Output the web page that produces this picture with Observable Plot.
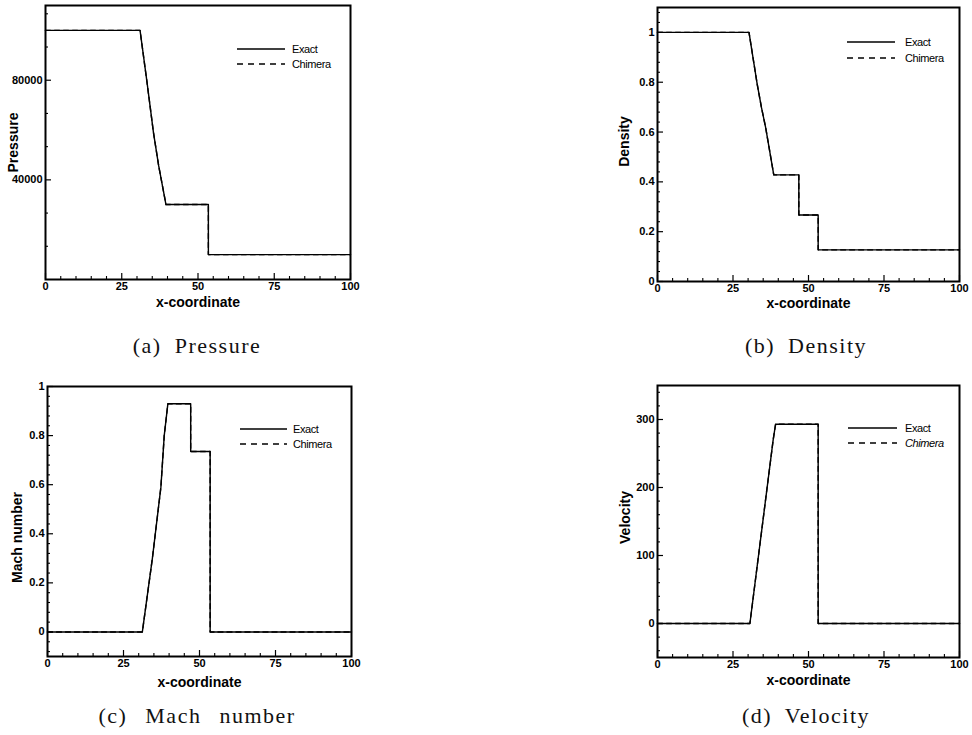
<!DOCTYPE html>
<html>
<head>
<meta charset="utf-8">
<script src="https://cdn.jsdelivr.net/npm/d3@7"></script>
<script src="https://cdn.jsdelivr.net/npm/@observablehq/plot@0.6"></script>
<style>
  html, body { margin: 0; padding: 0; background: #fff; }
  #root { position: relative; width: 972px; height: 735px; overflow: hidden; background: #fff;
          font-family: "Liberation Sans", Arial, sans-serif; color: #000; }
  .panel { position: absolute; }
  .cap { position: absolute; font-family: "Liberation Serif", "DejaVu Serif", serif; font-size: 22px;
         letter-spacing: 1.5px; word-spacing: 6px; white-space: nowrap; transform: translate(-50%, -50%); color: #111; }
  .leg { position: absolute; font-size: 11px; line-height: 11px; white-space: nowrap; letter-spacing: -0.4px; }
</style>
</head>
<body>
<div id="root"></div>
<script>
// ---------------- data ----------------
const xMajor = [0, 25, 50, 75, 100];
const xMinor = [5, 10, 15, 20, 30, 35, 40, 45, 55, 60, 65, 70, 80, 85, 90, 95];

// (a) Pressure
const pressureX      = [0, 31.0, 33.3, 35.4, 37.1, 39.5, 53.4, 53.4, 100];
const pressureExact  = [100000, 100000, 79000, 59000, 45700, 30100, 30100, 10000, 10000];
const pressureChim   = [100000, 100000, 79000, 59000, 45700, 30100, 30100, 10000, 10000];
const pressureMajor  = [40000, 80000];
const pressureMinor  = [13333, 26667, 53333, 66667, 93333, 106667];

// (b) Density
const densityX       = [0, 30.3, 33.0, 34.4, 35.8, 38.5, 46.8, 46.8, 53.2, 53.2, 100];
const densityExact   = [1, 1, 0.793, 0.70, 0.619, 0.428, 0.428, 0.267, 0.267, 0.127, 0.127];
const densityChim    = [1, 1, 0.793, 0.70, 0.619, 0.428, 0.428, 0.267, 0.267, 0.127, 0.127];
const densityMajor   = [0, 0.2, 0.4, 0.6, 0.8, 1];
const densityMinor   = [0.04, 0.08, 0.12, 0.16, 0.24, 0.28, 0.32, 0.36, 0.44, 0.48, 0.52, 0.56,
                        0.64, 0.68, 0.72, 0.76, 0.84, 0.88, 0.92, 0.96, 1.04, 1.08];

// (c) Mach number
const machX          = [0, 31.2, 34.5, 37.3, 38.4, 39.6, 47.1, 47.1, 53.5, 53.5, 100];
const machExact      = [0, 0, 0.30, 0.59, 0.80, 0.93, 0.93, 0.735, 0.735, 0, 0];
const machChim       = [0, 0, 0.30, 0.59, 0.80, 0.93, 0.93, 0.735, 0.735, 0, 0];
const machMajor      = [0, 0.2, 0.4, 0.6, 0.8, 1];
const machMinor      = [-0.08, -0.04, 0.04, 0.08, 0.12, 0.16, 0.24, 0.28, 0.32, 0.36, 0.44, 0.48, 0.52, 0.56,
                        0.64, 0.68, 0.72, 0.76, 0.84, 0.88, 0.92, 0.96];

// (d) Velocity
const velocityX      = [0, 30.6, 38.3, 39.1, 53.2, 53.2, 100];
const velocityExact  = [0, 0, 270, 293, 293, 0, 0];
const velocityChim   = [0, 0, 270, 293, 293, 0, 0];
const velocityMajor  = [0, 100, 200, 300];
const velocityMinor  = [-40, -20, 20, 40, 60, 80, 120, 140, 160, 180, 220, 240, 260, 280, 320, 340];

const seriesNames = ["Exact", "Chimera"];
const captions = ["(a) Pressure", "(b) Density", "(c) Mach number", "(d) Velocity"];

// ---------------- drawing ----------------
const root = document.getElementById("root");
const FONT = "Liberation Sans, Arial, sans-serif";

function zipRows(xs, ys) { return xs.map((x, i) => ({x, y: ys[i]})); }

function makePanel(cfg) {
  const exact = zipRows(cfg.x, cfg.exact);
  const chim = zipRows(cfg.x, cfg.chim);
  const svg = Plot.plot({
    width: cfg.width, height: cfg.height,
    marginLeft: cfg.ml, marginRight: cfg.mr, marginTop: cfg.mt, marginBottom: cfg.mb,
    style: {fontFamily: FONT, fontSize: "11px", color: "#000", background: "#fff", overflow: "visible"},
    x: {domain: [0, 100]},
    y: {domain: cfg.yDomain},
    marks: [
      Plot.axisX(xMinor, {anchor: "bottom", tickSize: -3, fill: "none", label: null, strokeWidth: 1.1}),
      Plot.axisX(xMajor, {anchor: "bottom", tickSize: -6, tickPadding: 9, label: null, strokeWidth: 1.2,
                          fontSize: 11, fontWeight: "bold", letterSpacing: "-0.5px", tickFormat: d => String(d)}),
      Plot.axisY(cfg.yMinor, {anchor: "left", tickSize: -3, fill: "none", label: null, strokeWidth: 1.1}),
      Plot.axisY(cfg.yMajor, {anchor: "left", tickSize: -6, tickPadding: 9, label: null, strokeWidth: 1.2,
                              fontSize: 11, fontWeight: "bold", letterSpacing: "-0.5px", tickFormat: d => String(d)}),
      Plot.line(exact, {x: "x", y: "y", stroke: "#000", strokeWidth: 1.4}),
      Plot.line(chim, {x: "x", y: "y", stroke: "#000", strokeWidth: 1.4, strokeDasharray: "5,4"}),
      Plot.frame({stroke: "#000", strokeWidth: 2}),
      Plot.text([cfg.yLabel], {frameAnchor: "left", rotate: -90, dx: cfg.yLabelDx, dy: cfg.yLabelDy,
                               textAnchor: "middle", lineAnchor: "middle",
                               fontSize: 14, fontWeight: "bold", letterSpacing: "-0.7px", fill: "#000"}),
      Plot.text(["x-coordinate"], {frameAnchor: "bottom", dy: cfg.xLabelDy, textAnchor: "middle", lineAnchor: "middle",
                                   fontSize: 14, fontWeight: "bold", letterSpacing: "-0.6px", fill: "#000"})
    ]
  });
  const div = document.createElement("div");
  div.className = "panel";
  div.style.left = cfg.left + "px";
  div.style.top = cfg.top + "px";
  div.appendChild(svg);
  root.appendChild(div);

  // legend (inside the frame, top right)
  seriesNames.forEach((name, i) => {
    const row = document.createElement("div");
    row.className = "leg";
    row.style.left = cfg.legLine[0] + "px";
    row.style.top = (cfg.legY[i] - 6) + "px";
    const w = cfg.legLine[1] - cfg.legLine[0];
    const gap = cfg.legText - cfg.legLine[1];
    row.innerHTML =
      `<svg width="${w}" height="12" style="vertical-align:top;overflow:visible">` +
      `<line x1="0" x2="${w}" y1="6" y2="6" stroke="#000" stroke-width="1.3"` +
      (i === 1 ? ` stroke-dasharray="6,5"` : ``) + `/></svg>` +
      `<span style="display:inline-block;margin-left:${gap}px;vertical-align:top;line-height:12px;` +
      (cfg.italic && i === 1 ? `font-style:italic;` : ``) + `">${name}</span>`;
    root.appendChild(row);
  });
}

makePanel({left: 0, top: 0, width: 370, height: 320, ml: 45, mr: 20, mt: 5, mb: 41,
  x: pressureX, exact: pressureExact, chim: pressureChim, yDomain: [0, 110000],
  yMajor: pressureMajor, yMinor: pressureMinor, yLabel: "Pressure",
  yLabelDx: -31.5, yLabelDy: 0, xLabelDy: 23,
  legLine: [237, 285], legText: 292, legY: [49, 64]});

makePanel({left: 590, top: 0, width: 382, height: 320, ml: 67, mr: 13, mt: 7, mb: 39,
  x: densityX, exact: densityExact, chim: densityChim, yDomain: [0, 1.1],
  yMajor: densityMajor, yMinor: densityMinor, yLabel: "Density",
  yLabelDx: -32.5, yLabelDy: -3, xLabelDy: 22,
  legLine: [847, 895], legText: 905, legY: [42, 58]});

makePanel({left: 0, top: 370, width: 370, height: 330, ml: 47, mr: 19, mt: 16, mb: 44,
  x: machX, exact: machExact, chim: machChim, yDomain: [-0.1, 1],
  yMajor: machMajor, yMinor: machMinor, yLabel: "Mach number",
  yLabelDx: -30, yLabelDy: 16, xLabelDy: 26,
  legLine: [240, 287], legText: 293, legY: [429, 444]});

makePanel({left: 590, top: 370, width: 382, height: 330, ml: 67, mr: 13, mt: 15, mb: 43,
  x: velocityX, exact: velocityExact, chim: velocityChim, yDomain: [-50, 350],
  yMajor: velocityMajor, yMinor: velocityMinor, yLabel: "Velocity",
  yLabelDx: -32, yLabelDy: -4, xLabelDy: 23,
  legLine: [848, 897], legText: 905, legY: [428, 443], italic: true});

const capPos = [[197, 346], [806, 346], [197, 716], [806, 716]];
captions.forEach((t, i) => {
  const c = document.createElement("div");
  c.className = "cap";
  c.style.left = capPos[i][0] + "px";
  c.style.top = capPos[i][1] + "px";
  if (i === 2) c.style.wordSpacing = "11px";
  c.textContent = t;
  root.appendChild(c);
});
</script>
</body>
</html>
